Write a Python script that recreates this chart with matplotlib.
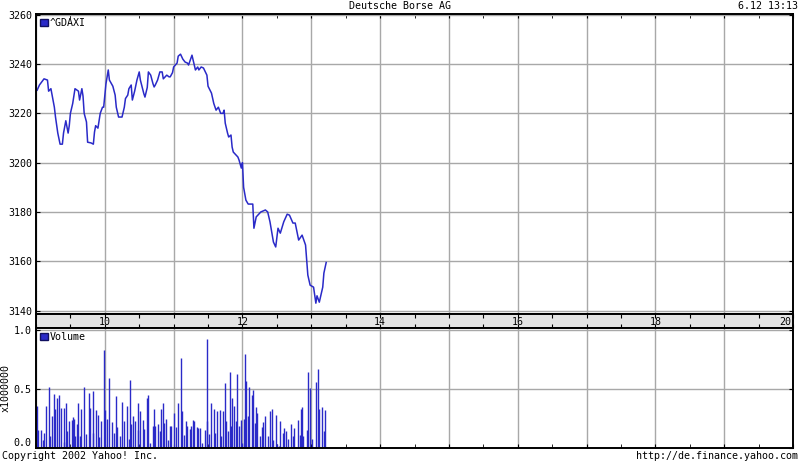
import numpy as np
import matplotlib.pyplot as plt
from matplotlib.patches import Patch

plt.rcParams['font.family'] = ['DejaVu Sans Mono']
plt.rcParams['font.size'] = 7.2

# Kurs ^GDAXI, Zeit in Minuten nach 09:00
t_kurs = [1, 3, 7, 10, 11, 13, 16, 17, 19, 21, 23, 24, 26, 28, 29, 30, 32, 34, 37, 38,
          40, 41, 42, 44, 45, 48, 50, 51, 52, 54, 56, 58, 59, 61, 63, 64, 67, 69, 70, 72,
          75, 77, 78, 80, 81, 83, 84, 86, 88, 90, 91, 94, 95, 97, 98, 100, 102, 103, 104, 106,
          108, 110, 111, 114, 116, 117, 119, 120, 123, 124, 126, 128, 130, 132, 133, 136, 137, 139, 141, 142,
          144, 146, 149, 150, 153, 155, 157, 159, 161, 163, 164, 165, 167, 168, 170, 171, 172, 176, 177, 179,
          180, 181, 183, 185, 189, 190, 192, 196, 200, 202, 204, 207, 209, 211, 213, 216, 219, 221, 224, 226,
          229, 232, 235, 237, 239, 242, 244, 245, 247, 250, 251, 253]
kurs = [3229.4, 3231.5, 3234.0, 3233.5, 3229.0, 3230.0, 3222.5, 3218.5, 3212.0, 3207.5, 3207.5, 3212.0, 3217.0, 3212.0, 3215.0, 3220.0, 3224.0, 3230.0, 3229.0, 3225.4,
        3230.0, 3227.0, 3220.0, 3216.5, 3208.3, 3208.0, 3207.5, 3212.4, 3215.0, 3214.0, 3220.0, 3222.5, 3222.5, 3232.0, 3237.6, 3233.5, 3231.0, 3227.4, 3222.5, 3218.5,
        3218.5, 3222.5, 3226.0, 3227.4, 3230.0, 3231.5, 3225.4, 3229.0, 3233.5, 3236.8, 3233.5, 3228.0, 3226.6, 3230.5, 3236.8, 3235.5, 3232.0, 3230.7, 3231.5, 3233.5,
        3236.8, 3236.8, 3234.0, 3235.5, 3234.8, 3234.8, 3236.5, 3238.8, 3240.4, 3243.2, 3244.0, 3242.0, 3240.8, 3240.4, 3239.6, 3243.6, 3241.6, 3237.6, 3238.8, 3237.6,
        3238.8, 3238.4, 3235.5, 3231.0, 3228.2, 3224.0, 3221.3, 3222.5, 3220.0, 3220.0, 3221.3, 3216.0, 3212.0, 3210.4, 3211.2, 3206.3, 3204.3, 3202.3, 3201.1, 3197.8,
        3200.0, 3190.0, 3184.8, 3183.2, 3183.2, 3173.4, 3178.0, 3180.0, 3180.8, 3180.0, 3176.0, 3167.8, 3165.8, 3173.4, 3171.4, 3176.0, 3179.1, 3178.7, 3175.5, 3175.5,
        3168.6, 3170.6, 3166.6, 3154.4, 3150.3, 3149.5, 3143.0, 3146.0, 3143.4, 3149.5, 3155.2, 3159.5]

# Volumen in Mio., Zeit in Minuten nach 09:00
t_vol = [1, 2, 4, 6, 7, 9, 11, 12, 14, 16, 17, 18, 20, 22, 24, 24, 26, 27, 29, 31,
         32, 33, 34, 36, 37, 38, 39, 42, 44, 46, 47, 50, 50, 52, 54, 55, 57, 59, 60, 62,
         64, 66, 68, 70, 71, 73, 75, 77, 79, 81, 82, 83, 85, 86, 89, 89, 91, 93, 94, 97,
         98, 99, 102, 103, 104, 106, 108, 109, 111, 112, 113, 115, 117, 118, 120, 122, 124, 126, 127, 129,
         131, 132, 134, 135, 137, 138, 140, 141, 143, 145, 147, 149, 149, 151, 153, 155, 156, 158, 160, 161,
         163, 165, 166, 167, 169, 170, 171, 173, 174, 175, 177, 179, 180, 181, 182, 183, 185, 186, 188, 189,
         191, 192, 193, 195, 197, 198, 200, 202, 204, 206, 207, 209, 210, 212, 213, 215, 216, 218, 220, 222,
         224, 225, 228, 230, 231, 232, 233, 236, 237, 239, 241, 244, 246, 247, 249, 251, 252]
vol = [0.36, 0.15, 0.15, 0.07, 0.13, 0.36, 0.52, 0.10, 0.27, 0.46, 0.33, 0.42, 0.45, 0.34, 0.05, 0.34, 0.38, 0.14, 0.23, 0.24,
       0.26, 0.25, 0.10, 0.20, 0.38, 0.10, 0.33, 0.52, 0.12, 0.47, 0.34, 0.48, 0.13, 0.32, 0.28, 0.09, 0.23, 0.83, 0.32, 0.25,
       0.59, 0.22, 0.13, 0.44, 0.18, 0.10, 0.39, 0.23, 0.36, 0.08, 0.58, 0.20, 0.27, 0.23, 0.38, 0.15, 0.31, 0.24, 0.16, 0.42,
       0.45, 0.04, 0.19, 0.33, 0.19, 0.20, 0.14, 0.33, 0.38, 0.21, 0.25, 0.07, 0.19, 0.19, 0.30, 0.18, 0.38, 0.76, 0.31, 0.11,
       0.23, 0.19, 0.16, 0.19, 0.24, 0.23, 0.18, 0.17, 0.17, 0.04, 0.15, 0.23, 0.92, 0.12, 0.38, 0.33, 0.13, 0.31, 0.32, 0.10,
       0.31, 0.55, 0.23, 0.14, 0.64, 0.19, 0.42, 0.36, 0.23, 0.63, 0.19, 0.24, 0.04, 0.25, 0.80, 0.57, 0.27, 0.52, 0.45, 0.49,
       0.21, 0.35, 0.30, 0.10, 0.18, 0.22, 0.27, 0.10, 0.31, 0.33, 0.07, 0.28, 0.03, 0.02, 0.23, 0.13, 0.17, 0.14, 0.08, 0.20,
       0.10, 0.17, 0.24, 0.11, 0.33, 0.35, 0.10, 0.15, 0.64, 0.51, 0.08, 0.56, 0.67, 0.33, 0.35, 0.14, 0.32]

blau = '#2a2ac8'
grau = '#a8a8a8'

h_kurs = 9 + np.array(t_kurs) / 60
h_vol = 9 + np.array(t_vol) / 60

fig = plt.figure(figsize=(8, 4.62), dpi=100)
ax = fig.add_axes([0.045, 0.3203, 0.94625, 0.6494])
band = fig.add_axes([0.045, 0.2900, 0.94625, 0.0303])
axv = fig.add_axes([0.045, 0.0303, 0.94625, 0.2597])

halbe = np.arange(9, 20.01, 0.5)

# Kurs
ax.plot(h_kurs, kurs, color=blau, lw=1.1)
ax.set_xlim(9, 20)
ax.set_ylim(3138.6, 3260.3)
ax.set_yticks(np.arange(3140, 3261, 20))
ax.set_xticks(np.arange(9, 21, 1))
ax.grid(color=grau, lw=1)
ax.set_xticks(halbe, minor=True)
ax.tick_params(axis='x', which='both', direction='in', top=True, bottom=False,
               labelbottom=False, length=3, color='black')
ax.tick_params(axis='y', direction='in', right=True, length=3, pad=3)
ax.legend(handles=[Patch(facecolor=blau, edgecolor='#101060', label='^GDAXI')],
          loc='upper left', frameon=False, handlelength=0.8, handleheight=0.8,
          handletextpad=0.2, borderaxespad=0.2, borderpad=0.2)

# Zeitleiste
band.set_facecolor('#e4e4e4')
band.set_xlim(9, 20)
band.set_ylim(0, 1)
band.set_yticks([])
band.set_xticks(halbe)
band.tick_params(axis='x', direction='in', top=True, bottom=True,
                 labelbottom=False, length=3)
for h in range(10, 21, 2):
    band.text(h if h < 20 else 19.98, 0.45, str(h), ha='center' if h < 20 else 'right',
              va='center')

# Volumen
axv.vlines(h_vol, 0, vol, color=blau, lw=1.0)
axv.set_xlim(9, 20)
axv.set_ylim(0, 1.017)
axv.set_yticks([0.0, 0.5, 1.0])
labels = axv.set_yticklabels(['0.0', '0.5', '1.0'])
labels[0].set_va('bottom')
axv.set_xticks(np.arange(9, 21, 1))
axv.set_xticks(halbe, minor=True)
axv.grid(color=grau, lw=1)
axv.tick_params(axis='x', which='both', direction='in', bottom=True,
                labelbottom=False, length=3)
axv.tick_params(axis='y', direction='in', right=True, length=3, pad=3)
axv.set_ylabel('x1000000', labelpad=2)
axv.legend(handles=[Patch(facecolor=blau, edgecolor='#101060', label='Volume')],
           loc='upper left', frameon=False, handlelength=0.8, handleheight=0.8,
           handletextpad=0.2, borderaxespad=0.2, borderpad=0.2)

for a in (ax, band, axv):
    for s in a.spines.values():
        s.set_linewidth(1.4)

fig.text(0.5, 0.988, 'Deutsche Borse AG', ha='center', va='center')
fig.text(0.998, 0.988, '6.12 13:13', ha='right', va='center')
fig.text(0.002, 0.002, 'Copyright 2002 Yahoo! Inc.', ha='left', va='bottom')
fig.text(0.998, 0.002, 'http://de.finance.yahoo.com', ha='right', va='bottom')

fig.savefig('out.png', dpi=100)
